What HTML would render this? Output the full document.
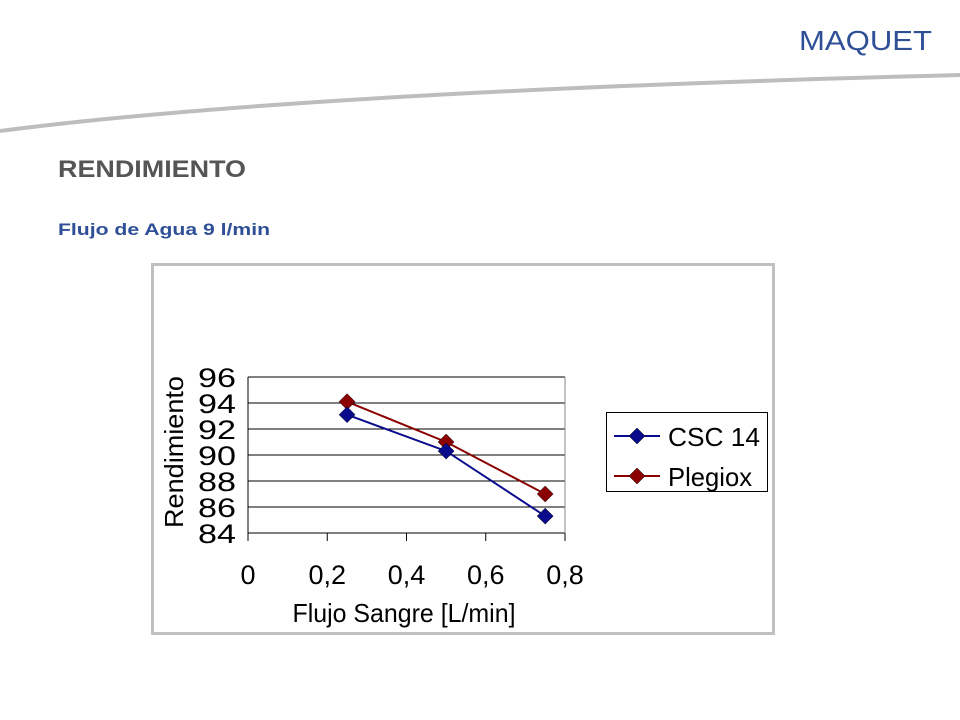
<!DOCTYPE html>
<html><head><meta charset="utf-8"><style>
body{margin:0;background:#fff;width:960px;height:720px;overflow:hidden;font-family:"Liberation Sans",sans-serif;}
</style></head><body>
<svg width="960" height="720" style="position:absolute;left:0;top:0">
<text x="799" y="50" font-size="28" fill="#2f4f96" font-family="Liberation Sans" textLength="133" lengthAdjust="spacingAndGlyphs">MAQUET</text>
<path d="M0,131 Q300,92 960,75" stroke="#bdbdbd" stroke-width="4" fill="none"/>
<text x="58" y="177" font-size="24" font-weight="bold" fill="#555" textLength="188" lengthAdjust="spacingAndGlyphs">RENDIMIENTO</text>
<text x="58" y="235" font-size="17" font-weight="bold" fill="#2f4f96" textLength="212" lengthAdjust="spacingAndGlyphs">Flujo de Agua 9 l/min</text>
<rect x="152.5" y="264.5" width="621" height="369" fill="#fff" stroke="#c0c0c0" stroke-width="3"/>
<g id="chart"></g>
</svg>
<script>
const xTicks=[0,0.2,0.4,0.6,0.8];
const xTickLabels=["0","0,2","0,4","0,6","0,8"];
const yTicks=[84,86,88,90,92,94,96];
const xValues=[0.25,0.5,0.75];
const cscValues=[93.1,90.3,85.3];
const plegioxValues=[94.1,91.0,87.0];
const NS="http://www.w3.org/2000/svg";
const g=document.getElementById('chart');
const L=248,R=565,T=377,B=533;
const xs=v=>L+(v-0)/(0.8)*(R-L);
const ys=v=>B-(v-84)/(96-84)*(B-T);
function mk(t,a,p){const e=document.createElementNS(NS,t);for(const k in a)e.setAttribute(k,a[k]);(p||g).appendChild(e);return e;}
yTicks.forEach(v=>{
 const l=mk('line',{x1:L,x2:R,y1:ys(v),y2:ys(v),stroke:'#000','stroke-width':1});
 
 
 const t=mk('text',{x:L-12,y:ys(v)+10,'font-size':27,'text-anchor':'end',fill:'#000',textLength:38,lengthAdjust:'spacingAndGlyphs'});t.textContent=v;
 
 
});
const ax=mk('line',{x1:L,x2:L,y1:T,y2:B,stroke:'#000'});


const rx=mk('line',{x1:R,x2:R,y1:T,y2:B,stroke:'#888'});


xTicks.forEach((v,i)=>{
 const l=mk('line',{x1:xs(v),x2:xs(v),y1:B,y2:B+8,stroke:'#000'});
 
 
 const t=mk('text',{x:xs(v),y:B+51,'font-size':27,'text-anchor':'middle',fill:'#000'});t.textContent=xTickLabels[i];
 
 
});
const xt=mk('text',{x:404,y:622,'font-size':26,'text-anchor':'middle',textLength:223,lengthAdjust:'spacingAndGlyphs'});xt.textContent='Flujo Sangre [L/min]';


const yt=mk('text',{x:0,y:0,'font-size':26,'text-anchor':'middle',textLength:152,lengthAdjust:'spacingAndGlyphs',transform:'translate(183,452) rotate(-90)'});yt.textContent='Rendimiento';


function diamond(cx,cy,c){return mk('polygon',{points:`${cx},${cy-8} ${cx+8},${cy} ${cx},${cy+8} ${cx-8},${cy}`,fill:c,stroke:'#000','stroke-width':0.5});}
function series(vals,c,name){
 const pts=vals.map((v,i)=>xs(xValues[i])+','+ys(v)).join(' ');
 const pl=mk('polyline',{points:pts,fill:'none',stroke:c,'stroke-width':2});
 
 
 vals.forEach((v,i)=>{const d=diamond(xs(xValues[i]),ys(v),c);
 
 });
}
series(plegioxValues,'#8b0000','plegiox');
series(cscValues,'#0a0a8c','csc14');
const lg=mk('rect',{x:606.5,y:412.5,width:161,height:79,fill:'#fff',stroke:'#000'});


[['CSC 14','#0a0a8c',436,92],['Plegiox','#8b0000',476,84]].forEach(([n,c,y,w])=>{
 const l=mk('line',{x1:614,x2:660,y1:y,y2:y,stroke:c,'stroke-width':2});
 
 
 const d=diamond(637,y,c);
 
 
 const t=mk('text',{x:668,y:y+10,'font-size':26,textLength:w,lengthAdjust:'spacingAndGlyphs'});t.textContent=n;
 
 
});
</script>
</body></html>
